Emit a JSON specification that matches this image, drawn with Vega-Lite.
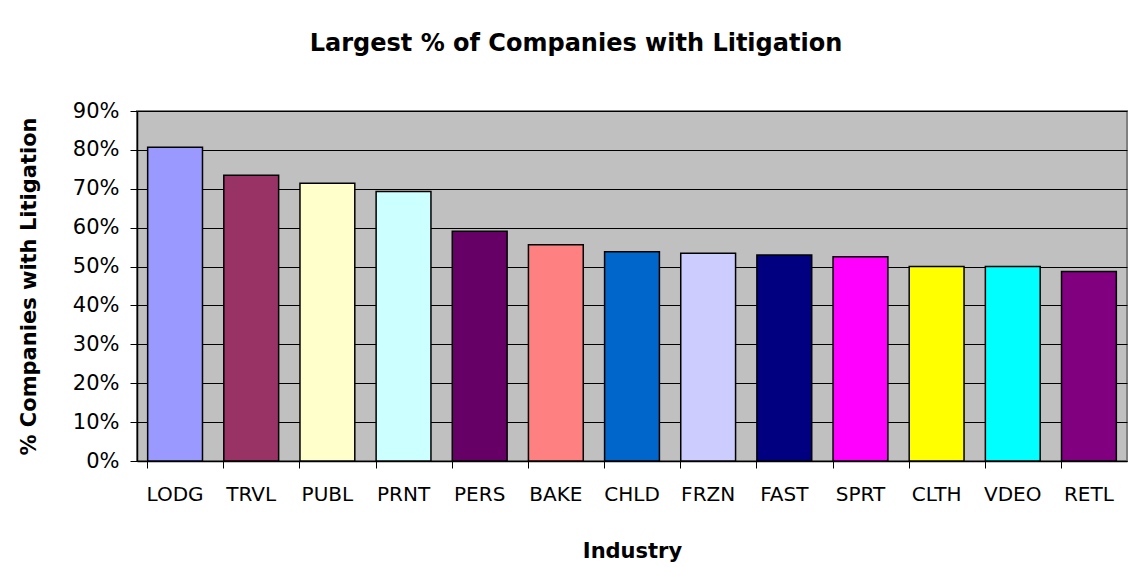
{
  "$schema": "https://vega.github.io/schema/vega-lite/v6.json",
  "autosize": "none",
  "width": 990,
  "height": 350,
  "padding": {"left": 137, "top": 111, "right": 4, "bottom": 106},
  "background": "white",
  "title": {
    "text": "Largest % of Companies with Litigation",
    "font": "DejaVu Sans",
    "fontSize": 24,
    "fontWeight": "bold",
    "color": "black",
    "anchor": "middle",
    "dx": -56,
    "offset": 44
  },
  "data": {
    "values": [
      {"industry": "LODG", "pct": 0.807},
      {"industry": "TRVL", "pct": 0.735},
      {"industry": "PUBL", "pct": 0.714},
      {"industry": "PRNT", "pct": 0.693},
      {"industry": "PERS", "pct": 0.591},
      {"industry": "BAKE", "pct": 0.556},
      {"industry": "CHLD", "pct": 0.538},
      {"industry": "FRZN", "pct": 0.534},
      {"industry": "FAST", "pct": 0.530},
      {"industry": "SPRT", "pct": 0.525},
      {"industry": "CLTH", "pct": 0.500},
      {"industry": "VDEO", "pct": 0.500},
      {"industry": "RETL", "pct": 0.487}
    ]
  },
  "encoding": {
    "y": {
      "field": "pct",
      "type": "quantitative",
      "scale": {"domain": [0, 0.9], "nice": false},
      "axis": {
        "values": [0, 0.1, 0.2, 0.3, 0.4, 0.5, 0.6, 0.7, 0.8, 0.9],
        "format": ".0%",
        "labelOverlap": false,
        "labelFont": "DejaVu Sans",
        "labelFontSize": 21,
        "labelColor": "black",
        "labelPadding": 11,
        "tickSize": 7,
        "tickColor": "black",
        "domainColor": "black",
        "domainWidth": 1.5,
        "grid": true,
        "gridColor": "black",
        "gridOpacity": 1,
        "gridWidth": 1,
        "title": "% Companies with Litigation",
        "titleFont": "DejaVu Sans",
        "titleFontSize": 21,
        "titleFontWeight": "bold",
        "titleColor": "black",
        "titlePadding": 33
      }
    }
  },
  "layer": [
    {
      "mark": {"type": "bar", "opacity": 0},
      "encoding": {
        "x": {
          "field": "industry",
          "type": "nominal",
          "sort": null,
          "scale": {"paddingInner": 0.28, "paddingOuter": 0.14},
          "axis": {
            "orient": "bottom",
            "bandPosition": 0,
            "labels": false,
            "domain": false,
            "grid": false,
            "ticks": true,
            "tickSize": 7,
            "tickColor": "black",
            "title": null
          }
        }
      }
    },
    {
      "mark": {"type": "bar", "stroke": "black", "strokeWidth": 1.5},
      "encoding": {
        "x": {
          "field": "industry",
          "type": "nominal",
          "sort": null,
          "scale": {"paddingInner": 0.28, "paddingOuter": 0.14},
          "axis": {
            "orient": "bottom",
            "labelAngle": 0,
            "ticks": false,
            "labelPadding": 23,
            "labelFont": "DejaVu Sans",
            "labelFontSize": 20,
            "labelColor": "black",
            "domainColor": "black",
            "domainWidth": 1.5,
            "grid": false,
            "title": "Industry",
            "titleFont": "DejaVu Sans",
            "titleFontSize": 21,
            "titleFontWeight": "bold",
            "titleColor": "black",
            "titlePadding": 36
          }
        },
        "color": {
          "field": "industry",
          "type": "nominal",
          "legend": null,
          "scale": {
            "domain": ["LODG", "TRVL", "PUBL", "PRNT", "PERS", "BAKE", "CHLD", "FRZN", "FAST", "SPRT", "CLTH", "VDEO", "RETL"],
            "range": ["#9999FF", "#993366", "#FFFFCC", "#CCFFFF", "#660066", "#FF8080", "#0066CC", "#CCCCFF", "#000080", "#FF00FF", "#FFFF00", "#00FFFF", "#800080"]
          }
        }
      }
    }
  ],
  "resolve": {"axis": {"x": "independent"}},
  "config": {
    "view": {"fill": "#C0C0C0", "stroke": "#808080", "strokeWidth": 2}
  }
}
